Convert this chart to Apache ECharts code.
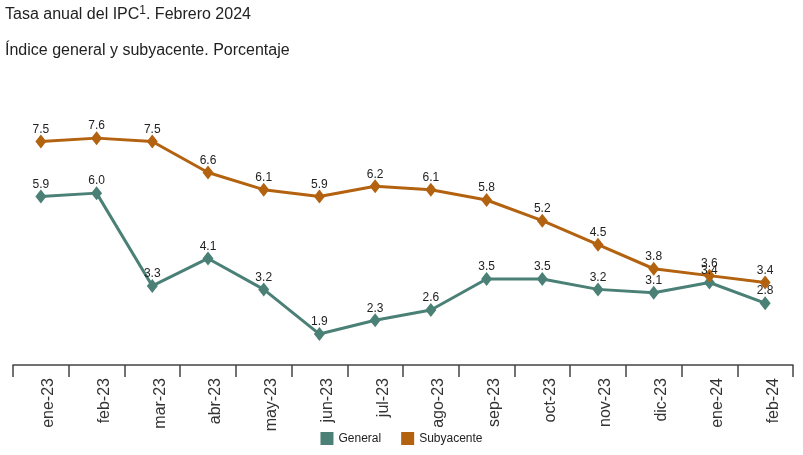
<!DOCTYPE html>
<html>
<head>
<meta charset="utf-8">
<script src="https://cdn.jsdelivr.net/npm/echarts@6/dist/echarts.min.js"></script>
<style>
html,body{margin:0;padding:0;background:#fff;}
#c{width:803px;height:455px;}
</style>
</head>
<body>
<div id="c"></div>
<script>
var categories = ["ene-23","feb-23","mar-23","abr-23","may-23","jun-23","jul-23","ago-23","sep-23","oct-23","nov-23","dic-23","ene-24","feb-24"];
var general = [5.9, 6.0, 3.3, 4.1, 3.2, 1.9, 2.3, 2.6, 3.5, 3.5, 3.2, 3.1, 3.4, 2.8];
var subyacente = [7.5, 7.6, 7.5, 6.6, 6.1, 5.9, 6.2, 6.1, 5.8, 5.2, 4.5, 3.8, 3.6, 3.4];

var FONT = "Liberation Sans, Arial, sans-serif";
var chart = echarts.init(document.getElementById('c'));
var lbl = {show:true, position:'top', distance:-1, color:'#222', fontSize:12, fontFamily:FONT,
  formatter:function(p){return p.value.toFixed(1);}};
chart.setOption({
  animation:false,
  textStyle:{fontFamily:FONT},
  title:[
    {text:'Tasa anual del IPC{s|1}. Febrero 2024', left:0, top:0,
     textStyle:{fontSize:16, fontWeight:'normal', color:'#222', fontFamily:FONT,
       rich:{s:{fontSize:12, verticalAlign:'top', padding:[0,0,8,0], color:'#222', fontFamily:FONT}}}},
    {text:'Índice general y subyacente. Porcentaje', left:0, top:38,
     textStyle:{fontSize:16, fontWeight:'normal', color:'#222', fontFamily:FONT}}
  ],
  legend:{bottom:5, left:'center', itemWidth:13, itemHeight:13, itemGap:20, icon:'rect',
    textStyle:{fontSize:12, color:'#222', fontFamily:FONT},
    data:['General','Subyacente']},
  grid:{left:13, right:10, top:90, bottom:90},
  xAxis:{type:'category', data:categories, boundaryGap:true,
    axisLine:{lineStyle:{color:'#444', width:1.5}},
    axisTick:{show:true, length:12, lineStyle:{color:'#444', width:1.5}},
    axisLabel:{rotate:90, margin:13, fontSize:16, color:'#333', fontFamily:FONT, interval:0, verticalAlign:'top'}},
  yAxis:{type:'value', min:1, max:9, show:false, splitLine:{show:false}},
  series:[
    {name:'General', type:'line', data:general, symbol:'diamond', symbolSize:[11,14],
     itemStyle:{color:'#4a8076'}, lineStyle:{width:3, color:'#4a8076'}, label:lbl},
    {name:'Subyacente', type:'line', data:subyacente, symbol:'diamond', symbolSize:[11,14],
     itemStyle:{color:'#b3620f'}, lineStyle:{width:3, color:'#b3620f'}, label:lbl}
  ]
});
</script>
</body>
</html>
